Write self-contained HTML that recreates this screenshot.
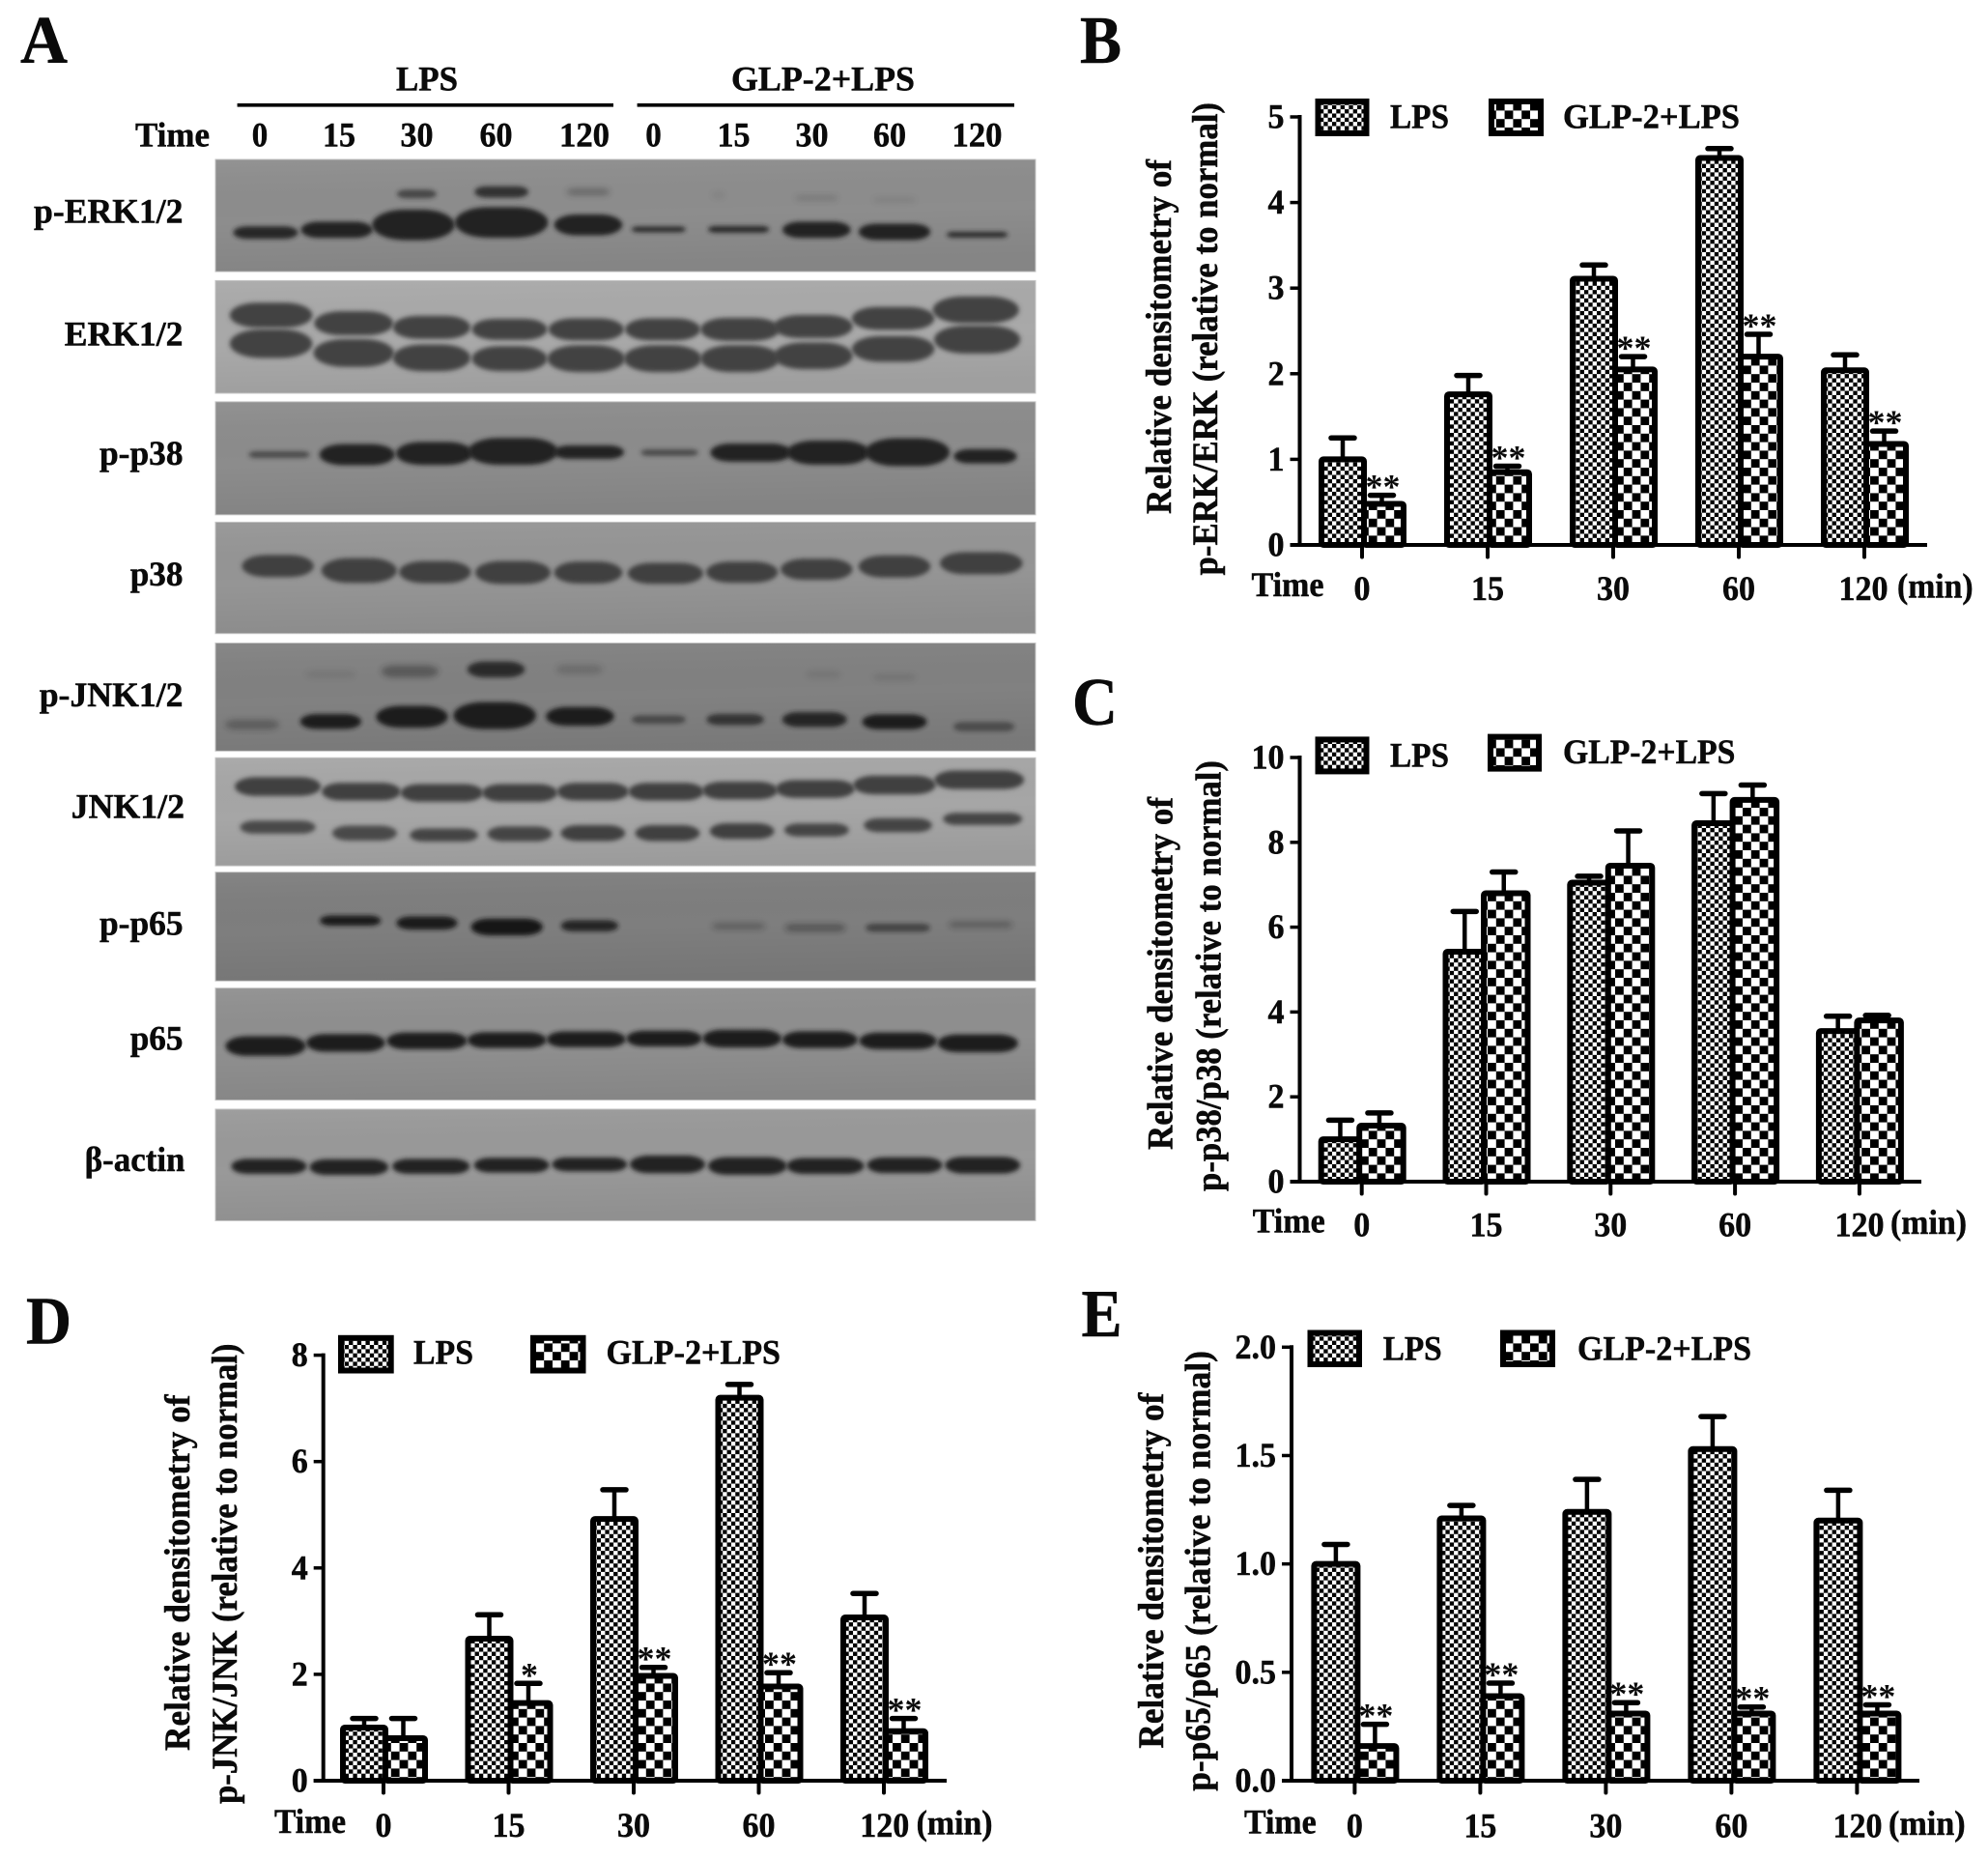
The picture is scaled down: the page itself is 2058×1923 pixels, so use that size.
<!DOCTYPE html>
<html lang="en">
<head>
<meta charset="utf-8">
<title>Western blots and densitometry of LPS and GLP-2+LPS</title>
<style>
html,body{margin:0;padding:0;background:#fff;}
svg{display:block;}
text{font-family:"Liberation Serif","Noto Serif CJK SC",serif;font-weight:bold;fill:#0a0a0a;stroke:#0a0a0a;stroke-width:.5px;}
</style>
</head>
<body>
<svg id="figure" xmlns="http://www.w3.org/2000/svg" width="2058" height="1923" viewBox="0 0 2058 1923">
<defs>
  <pattern id="fine-check" patternUnits="userSpaceOnUse" width="8.7" height="8.7">
    <rect width="8.7" height="8.7" fill="#fff"/>
    <rect width="4.35" height="4.35" fill="#000"/>
    <rect x="4.35" y="4.35" width="4.35" height="4.35" fill="#000"/>
  </pattern>
  <pattern id="coarse-check" patternUnits="userSpaceOnUse" width="17.6" height="17.6">
    <rect width="17.6" height="17.6" fill="#fff"/>
    <rect width="8.8" height="8.8" fill="#000"/>
    <rect x="8.8" y="8.8" width="8.8" height="8.8" fill="#000"/>
  </pattern>
  <linearGradient id="blot-shade-gradient" x1="0" y1="0" x2="0.15" y2="1">
    <stop offset="0" stop-color="#fff" stop-opacity="0.05"/>
    <stop offset="0.55" stop-color="#000" stop-opacity="0"/>
    <stop offset="1" stop-color="#000" stop-opacity="0.06"/>
  </linearGradient>
  <filter id="band-blur" x="-20%" y="-80%" width="140%" height="260%"><feGaussianBlur stdDeviation="2.4"/></filter>
  <filter id="smear-blur" x="-30%" y="-120%" width="160%" height="340%"><feGaussianBlur stdDeviation="3.2"/></filter>
</defs>
<rect width="2058" height="1923" fill="#fff"/>

<g id="blot-layer"></g>

<g>
  <text x="21" y="65" font-size="70" textLength="49" lengthAdjust="spacingAndGlyphs">A</text>
  <text x="410" y="93.4" font-size="36" textLength="64" lengthAdjust="spacingAndGlyphs">LPS</text>
  <text x="757" y="93.4" font-size="36" textLength="190" lengthAdjust="spacingAndGlyphs">GLP-2+LPS</text>
  <rect x="245.6" y="107" width="389.4" height="3.6" fill="#000"/>
  <rect x="659.6" y="107" width="390.4" height="3.6" fill="#000"/>
  <text x="140" y="151.5" font-size="36" textLength="77" lengthAdjust="spacingAndGlyphs">Time</text>
  <text x="269" y="151.5" font-size="36" text-anchor="middle" textLength="16.5" lengthAdjust="spacingAndGlyphs">0</text>
  <text x="351" y="151.5" font-size="36" text-anchor="middle" textLength="34" lengthAdjust="spacingAndGlyphs">15</text>
  <text x="431.5" y="151.5" font-size="36" text-anchor="middle" textLength="34" lengthAdjust="spacingAndGlyphs">30</text>
  <text x="513.5" y="151.5" font-size="36" text-anchor="middle" textLength="34" lengthAdjust="spacingAndGlyphs">60</text>
  <text x="605" y="151.5" font-size="36" text-anchor="middle" textLength="52" lengthAdjust="spacingAndGlyphs">120</text>
  <text x="676.5" y="151.5" font-size="36" text-anchor="middle" textLength="16.5" lengthAdjust="spacingAndGlyphs">0</text>
  <text x="759.5" y="151.5" font-size="36" text-anchor="middle" textLength="34" lengthAdjust="spacingAndGlyphs">15</text>
  <text x="840.5" y="151.5" font-size="36" text-anchor="middle" textLength="34" lengthAdjust="spacingAndGlyphs">30</text>
  <text x="921" y="151.5" font-size="36" text-anchor="middle" textLength="34" lengthAdjust="spacingAndGlyphs">60</text>
  <text x="1011.5" y="151.5" font-size="36" text-anchor="middle" textLength="52" lengthAdjust="spacingAndGlyphs">120</text>
  <text x="35" y="230.6" font-size="36" textLength="154.5" lengthAdjust="spacingAndGlyphs">p-ERK1/2</text>
  <text x="66.7" y="357.7" font-size="36" textLength="122.8" lengthAdjust="spacingAndGlyphs">ERK1/2</text>
  <text x="103" y="481" font-size="36" textLength="86.5" lengthAdjust="spacingAndGlyphs">p-p38</text>
  <text x="134.7" y="606" font-size="36" textLength="54.8" lengthAdjust="spacingAndGlyphs">p38</text>
  <text x="40.7" y="730.8" font-size="36" textLength="148.8" lengthAdjust="spacingAndGlyphs">p-JNK1/2</text>
  <text x="73.7" y="846.7" font-size="36" textLength="117.3" lengthAdjust="spacingAndGlyphs">JNK1/2</text>
  <text x="103" y="967.5" font-size="36" textLength="86.5" lengthAdjust="spacingAndGlyphs">p-p65</text>
  <text x="134.7" y="1086.7" font-size="36" textLength="54.8" lengthAdjust="spacingAndGlyphs">p65</text>
  <text x="87.7" y="1212" font-size="36" textLength="103.8" lengthAdjust="spacingAndGlyphs">β-actin</text>
</g>

<g>
  <text x="1118" y="65" font-size="70" textLength="43" lengthAdjust="spacingAndGlyphs">B</text>
  <text x="1110" y="750" font-size="70" textLength="47" lengthAdjust="spacingAndGlyphs">C</text>
  <text x="27" y="1390.5" font-size="70" textLength="47" lengthAdjust="spacingAndGlyphs">D</text>
  <text x="1119.5" y="1383" font-size="70" textLength="42" lengthAdjust="spacingAndGlyphs">E</text>
</g>

<g id="chart-b"></g>
<g id="chart-c"></g>
<g id="chart-d"></g>
<g id="chart-e"></g>
</svg>

<script>
/* ---------- chart data ---------- */
const categories = ['0', '15', '30', '60', '120'];

const ticksB = [0, 1, 2, 3, 4, 5];
const tickLabelsB = ['0', '1', '2', '3', '4', '5'];
const lpsB = [1.0, 1.76, 3.11, 4.52, 2.04];
const lpsErrB = [0.25, 0.22, 0.16, 0.11, 0.18];
const glpB = [0.48, 0.85, 2.05, 2.2, 1.18];
const glpErrB = [0.1, 0.07, 0.15, 0.26, 0.15];
const sigB = ['**', '**', '**', '**', '**'];

const ticksC = [0, 2, 4, 6, 8, 10];
const tickLabelsC = ['0', '2', '4', '6', '8', '10'];
const lpsC = [1.0, 5.42, 7.05, 8.45, 3.55];
const lpsErrC = [0.45, 0.95, 0.15, 0.7, 0.35];
const glpC = [1.32, 6.8, 7.45, 9.0, 3.8];
const glpErrC = [0.3, 0.5, 0.82, 0.35, 0.12];
const sigC = ['', '', '', '', ''];

const ticksD = [0, 2, 4, 6, 8];
const tickLabelsD = ['0', '2', '4', '6', '8'];
const lpsD = [1.0, 2.67, 4.92, 7.2, 3.07];
const lpsErrD = [0.17, 0.45, 0.55, 0.25, 0.45];
const glpD = [0.8, 1.46, 1.97, 1.77, 0.93];
const glpErrD = [0.37, 0.37, 0.16, 0.26, 0.24];
const sigD = ['', '*', '**', '**', '**'];

const ticksE = [0, 0.5, 1, 1.5, 2];
const tickLabelsE = ['0.0', '0.5', '1.0', '1.5', '2.0'];
const lpsE = [1.0, 1.21, 1.24, 1.53, 1.2];
const lpsErrE = [0.09, 0.06, 0.15, 0.15, 0.14];
const glpE = [0.16, 0.39, 0.31, 0.31, 0.31];
const glpErrE = [0.1, 0.06, 0.05, 0.03, 0.04];
const sigE = ['**', '**', '**', '**', '**'];

/* ---------- blot band densities per visible band (0..1) ---------- */
const densityPErk = [0.95, 1, 1, 1, 1, 0.9, 0.9, 1, 1, 0.9];
const densityPErkUpper = [0.65, 0.85, 0.35, 0.08, 0.2, 0.12];
const densityPP38 = [0.6, 1, 1, 1, 1, 0.6, 1, 1, 1, 1];
const densityPJnk = [0.35, 1, 1, 1, 1, 0.55, 0.75, 0.9, 1, 0.5];
const densityPJnkUpper = [0.1, 0.4, 0.85, 0.2, 0.1, 0.12];
const densityPP65 = [0.95, 0.95, 1, 0.85, 0.3, 0.4, 0.55, 0.3];
const densityJnkLower = [0.9, 0.9, 0.95, 0.95, 1, 1, 1, 0.95, 0.95, 0.95];
const densityFull = [1, 1, 1, 1, 1, 1, 1, 1, 1, 1];

const blotNames = ['p-erk', 'erk', 'p-p38', 'p38', 'p-jnk', 'jnk', 'p-p65', 'p65', 'beta-actin'];

/* ---------- figure geometry (kept separate from the data) ---------- */
const svg = document.getElementById('figure');
const NS = 'http://www.w3.org/2000/svg';

function mk(parent, tag, attrs) {
  const el = document.createElementNS(NS, tag);
  for (const k in attrs) el.setAttribute(k, attrs[k]);
  parent.appendChild(el);
  return el;
}
function mkText(parent, str, attrs) {
  const el = mk(parent, 'text', attrs);
  el.textContent = str;
  return el;
}

/* Blots: geometry in reference-crop units, converted with fy/oy */
const blotLayout = [
  {top:392, bottom:668, oy:0, fy:2.376, bg:'#8d8d8d', tone:'#242424', rows:[
    {x:[392,497,610,740,868,972,1090,1205,1320,1442], y:[572,565,553,547,553,564,564,565,570,577], w:[90,100,115,130,95,75,85,95,100,85], h:[24,32,62,62,42,10,12,32,32,10], d:densityPErk},
    {x:[615,740,868,1060,1205,1320], y:[477,472,472,480,487,492], w:[55,75,60,20,60,60], h:[16,22,12,14,8,8], d:densityPErkUpper}
  ]},
  {top:690, bottom:967, oy:0, fy:2.376, bg:'#a9a9a9', tone:'#424242', rows:[
    {x:[400,522,637,752,865,978,1092,1200,1318,1440], y:[775,795,805,810,810,810,810,803,783,762], w:[115,110,108,105,105,105,110,110,115,120], h:[50,48,46,42,44,44,46,46,46,54], d:densityFull},
    {x:[400,522,637,752,865,978,1092,1200,1318,1442], y:[845,868,880,882,882,882,882,875,858,835], w:[115,112,108,105,108,108,110,110,115,120], h:[58,56,54,50,54,54,54,54,52,56], d:densityFull}
  ]},
  {top:988, bottom:1266, oy:0, fy:2.376, bg:'#8c8c8c', tone:'#242424', rows:[
    {x:[412,527,641,757,869,988,1108,1222,1339,1454], y:[1118,1118,1115,1110,1112,1113,1113,1113,1112,1122], w:[85,105,107,125,98,80,113,115,118,88], h:[12,42,46,54,26,12,36,48,56,28], d:densityPP38}
  ]},
  {top:1284, bottom:1558, oy:0, fy:2.376, bg:'#959595', tone:'#414141', rows:[
    {x:[410,530,642,757,868,982,1095,1205,1320,1448], y:[1392,1403,1407,1408,1408,1410,1407,1400,1393,1385], w:[100,105,100,105,95,105,100,100,100,115], h:[44,50,44,46,44,42,42,42,44,44], d:densityFull}
  ]},
  {top:38, bottom:312, oy:650, fy:2.45, bg:'#818181', tone:'#1c1c1c', rows:[
    {x:[372,488,608,730,856,972,1085,1202,1320,1452], y:[245,237,225,222,224,232,232,232,238,250], w:[75,85,100,115,95,75,80,90,90,85], h:[18,30,45,56,38,16,22,30,30,18], d:densityPJnk},
    {x:[488,605,732,855,1215,1320], y:[118,110,105,105,118,125], w:[70,80,80,65,50,60], h:[14,24,32,18,16,14], d:densityPJnkUpper}
  ]},
  {top:329, bottom:603, oy:650, fy:2.45, bg:'#a6a6a6', tone:'#404040', rows:[
    {x:[410,533,652,767,875,983,1092,1203,1320,1445], y:[402,415,418,418,415,415,412,408,398,385], w:[120,110,115,105,100,105,105,110,115,125], h:[38,36,36,36,36,36,36,36,38,38], d:densityFull},
    {x:[410,538,655,767,875,985,1095,1205,1325,1450], y:[505,520,525,522,520,520,515,512,500,484], w:[105,90,95,90,90,90,90,90,95,110], h:[26,30,26,30,32,32,32,26,28,24], d:densityJnkLower}
  ]},
  {top:619, bottom:895, oy:650, fy:2.45, bg:'#7e7e7e', tone:'#181818', rows:[
    {x:[517,630,748,870,1090,1203,1325,1447], y:[742,748,758,755,756,760,760,752], w:[85,85,100,80,75,85,90,90], h:[20,26,34,22,12,14,16,12], d:densityPP65}
  ]},
  {top:913, bottom:1197, oy:650, fy:2.45, bg:'#8f8f8f', tone:'#1e1e1e', rows:[
    {x:[392,510,630,748,865,980,1095,1210,1325,1443], y:[1060,1052,1047,1045,1043,1041,1041,1044,1047,1053], w:[112,110,112,110,110,105,110,105,108,112], h:[40,36,34,32,32,32,36,34,34,36], d:densityFull}
  ]},
  {top:1220, bottom:1503, oy:650, fy:2.45, bg:'#999999', tone:'#242424', rows:[
    {x:[397,515,636,755,870,985,1103,1218,1335,1450], y:[1365,1367,1365,1362,1360,1360,1364,1364,1362,1362], w:[105,110,108,105,105,105,110,108,105,105], h:[30,32,30,30,28,36,36,32,32,34], d:densityFull}
  ]}
];

const FX = 1.4255;
const blotLayer = document.getElementById('blot-layer');
blotLayout.forEach((b, bi) => {
  const top = b.oy + b.top / b.fy;
  const bottom = b.oy + b.bottom / b.fy;
  const g = mk(blotLayer, 'g', {});
  
  
  const r = mk(g, 'rect', {x:223, y:top, width:849, height:bottom - top, fill:b.bg, stroke:'#c4c4c4', 'stroke-width':1});
  
  
  const shade = mk(g, 'rect', {x:223.5, y:top + 0.5, width:848, height:bottom - top - 1, fill:'url(#blot-shade-gradient)'});
  
  
  b.rows.forEach(row => {
    row.x.forEach((zx, i) => {
      const dens = row.d[i];
      if (!dens) return;
      const w = row.w[i] / FX * 1.06;
      const h = row.h[i] / b.fy * 1.18 + 1;
      const cx = zx / FX;
      const cy = b.oy + row.y[i] / b.fy;
      const band = mk(g, 'rect', {
        x: cx - w / 2, y: cy - h / 2, width: w, height: h,
        rx: Math.min(w / 2, h * 1.1), ry: h / 2,
        fill: b.tone, opacity: dens,
        filter: dens < 0.5 ? 'url(#smear-blur)' : 'url(#band-blur)'
      });
      
      
    });
  });
});

/* Charts */
const charts = [
  {id:'chart-b', x0:1345.5, xEnd:1995, y0:564, yTop:121, yMax:5, first:1410, step:130, wall:2,
   ticks:ticksB, tickLabels:tickLabelsB, lps:lpsB, lpsErr:lpsErrB, glp:glpB, glpErr:glpErrB, sig:sigB,
   swLps:[1361.5,102,56,39], swGlp:[1541,102,57,39],
   legLps:[1439,132.6,61], legGlp:[1618,132.6,183],
   xBase:618.7, time:[1295.5,75], x120:1929, min:[1964,78.6],
   t1:['Relative densitometry of',1211.8,532,367], t2:['p-ERK/ERK (relative to normal)',1260,595.5,489.5]},
  {id:'chart-c', x0:1345.5, xEnd:1989, y0:1223, yTop:784, yMax:10, first:1409.7, step:128.8, wall:-2.5,
   ticks:ticksC, tickLabels:tickLabelsC, lps:lpsC, lpsErr:lpsErrC, glp:glpC, glpErr:glpErrC, sig:sigC,
   swLps:[1361.5,762.4,56,39], swGlp:[1540,759.6,56,39],
   legLps:[1439,793.5,61], legGlp:[1618,790,178.4],
   xBase:1277, time:[1296.7,75], x120:1925, min:[1957,79],
   t1:['Relative densitometry of',1213.6,1190,365], t2:['p-p38/p38 (relative to normal)',1263.7,1233,446]},
  {id:'chart-d', x0:334.7, xEnd:980, y0:1843, yTop:1402.6, yMax:8, first:397, step:129.5, wall:2,
   ticks:ticksD, tickLabels:tickLabelsD, lps:lpsD, lpsErr:lpsErrD, glp:glpD, glpErr:glpErrD, sig:sigD,
   swLps:[350,1381.8,57.7,39.7], swGlp:[549,1381.8,57.5,39.7],
   legLps:[428,1411.3,62], legGlp:[627.5,1411.3,180.5],
   xBase:1898.5, time:[284,74], x120:915.7, min:[948.6,79],
   t1:['Relative densitometry of',196,1812,368.5], t2:['p-JNK/JNK (relative to normal)',244.8,1867,476.5]},
  {id:'chart-e', x0:1337, xEnd:1987, y0:1843, yTop:1394.3, yMax:2, first:1402.4, step:130, wall:3,
   ticks:ticksE, tickLabels:tickLabelsE, lps:lpsE, lpsErr:lpsErrE, glp:glpE, glpErr:glpErrE, sig:sigE,
   swLps:[1353.5,1376.5,56.5,38.5], swGlp:[1553,1376.5,57,38.5],
   legLps:[1431.7,1407.5,61], legGlp:[1633,1407.5,180],
   xBase:1899, time:[1288,74.7], x120:1923, min:[1955,79.6],
   t1:['Relative densitometry of',1203.8,1809.6,368], t2:['p-p65/p65 (relative to normal)',1252.7,1853.8,455.7]}
];

/* width of a numeric label: digits are slightly condensed */
function numberWidth(str) {
  let w = 0;
  for (const ch of str) w += ch === '.' ? 8.5 : 17;
  return w;
}

function drawChart(c) {
  const g = document.getElementById(c.id);
  const y = v => c.y0 - v * (c.y0 - c.yTop) / c.yMax;
  const x = i => c.first + i * c.step;
  const BW = 3;

  categories.forEach((cat, i) => {
    const cx = x(i);
    const left = cx - 42, wall = cx + c.wall, right = cx + 43;

    /* error bars sit behind the bars */
    const lx = (left + wall) / 2;
    const gx = (wall + right) / 2 - 2;
    const lt = y(c.lps[i] + c.lpsErr[i]);
    const gt = y(c.glp[i] + c.glpErr[i]);

    const e1 = mk(g, 'line', {x1:lx, x2:lx, y1:y(c.lps[i]), y2:lt, stroke:'#000', 'stroke-width':4.5});
    
    
    const cap1 = mk(g, 'line', {x1:lx - 12, x2:lx + 12, y1:lt, y2:lt, stroke:'#000', 'stroke-width':5.5, 'stroke-linecap':'round'});
    
    
    const e2 = mk(g, 'line', {x1:gx, x2:gx, y1:y(c.glp[i]), y2:gt, stroke:'#000', 'stroke-width':4.5});
    
    
    const cap2 = mk(g, 'line', {x1:gx - 12, x2:gx + 12, y1:gt, y2:gt, stroke:'#000', 'stroke-width':5.5, 'stroke-linecap':'round'});
    
    

    const b1 = mk(g, 'rect', {x:left, y:y(c.lps[i]), width:wall - left, height:c.y0 - y(c.lps[i]), fill:'url(#fine-check)', stroke:'#000', 'stroke-width':BW * 2, rx:2});
    
    
    const b2 = mk(g, 'rect', {x:wall, y:y(c.glp[i]), width:right - wall, height:c.y0 - y(c.glp[i]), fill:'url(#coarse-check)', stroke:'#000', 'stroke-width':BW * 2, rx:2});
    
    

    if (c.sig[i]) {
      const s = mkText(g, c.sig[i], {x:gx + 1, y:gt + 3, 'font-size':36, 'text-anchor':'middle', style:'stroke-width:0'});
      
      
    }

    const tick = mk(g, 'line', {x1:cx, x2:cx, y1:c.y0, y2:c.y0 + 12.5, stroke:'#000', 'stroke-width':4, 'stroke-linecap':'round'});
    
    

    const labelX = i === categories.length - 1 ? c.x120 : cx;
    const lab = mkText(g, cat, {x:labelX, y:c.xBase + 2.5, 'font-size':36, 'text-anchor':'middle', textLength:numberWidth(cat), lengthAdjust:'spacingAndGlyphs'});
    
    
  });

  const xAxis = mk(g, 'line', {x1:c.x0 - 10, x2:c.xEnd, y1:c.y0, y2:c.y0, stroke:'#000', 'stroke-width':4});
  
  
  const yAxis = mk(g, 'line', {x1:c.x0, x2:c.x0, y1:c.yTop - 2, y2:c.y0, stroke:'#000', 'stroke-width':4});
  
  

  c.ticks.forEach((t, i) => {
    const tk = mk(g, 'line', {x1:c.x0 - 10, x2:c.x0, y1:y(t), y2:y(t), stroke:'#000', 'stroke-width':3.5});
    
    
    const tl = mkText(g, c.tickLabels[i], {x:c.x0 - 16, y:y(t) + 11.5, 'font-size':36, 'text-anchor':'end', textLength:numberWidth(c.tickLabels[i]), lengthAdjust:'spacingAndGlyphs'});
    
    
  });

  const swA = mk(g, 'rect', {x:c.swLps[0] + 3, y:c.swLps[1] + 3, width:c.swLps[2] - 6, height:c.swLps[3] - 6, fill:'url(#fine-check)', stroke:'#000', 'stroke-width':6});
  
  
  const swB = mk(g, 'rect', {x:c.swGlp[0] + 3, y:c.swGlp[1] + 3, width:c.swGlp[2] - 6, height:c.swGlp[3] - 6, fill:'url(#coarse-check)', stroke:'#000', 'stroke-width':6});
  
  
  const leA = mkText(g, 'LPS', {x:c.legLps[0], y:c.legLps[1], 'font-size':36, textLength:c.legLps[2], lengthAdjust:'spacingAndGlyphs'});
  
  
  const leB = mkText(g, 'GLP-2+LPS', {x:c.legGlp[0], y:c.legGlp[1], 'font-size':36, textLength:c.legGlp[2], lengthAdjust:'spacingAndGlyphs'});
  
  

  const tm = mkText(g, 'Time', {x:c.time[0], y:c.xBase - 1.5, 'font-size':36, textLength:c.time[1], lengthAdjust:'spacingAndGlyphs'});
  
  
  const mn = mkText(g, '(min)', {x:c.min[0], y:c.xBase, 'font-size':36, textLength:c.min[1], lengthAdjust:'spacingAndGlyphs'});
  
  

  const t1 = mkText(g, c.t1[0], {transform:'translate(' + c.t1[1] + ' ' + c.t1[2] + ') rotate(-90)', 'font-size':37, textLength:c.t1[3], lengthAdjust:'spacingAndGlyphs'});
  
  
  const t2 = mkText(g, c.t2[0], {transform:'translate(' + c.t2[1] + ' ' + c.t2[2] + ') rotate(-90)', 'font-size':37, textLength:c.t2[3], lengthAdjust:'spacingAndGlyphs'});
  
  
}
charts.forEach(drawChart);
</script>
</body>
</html>
